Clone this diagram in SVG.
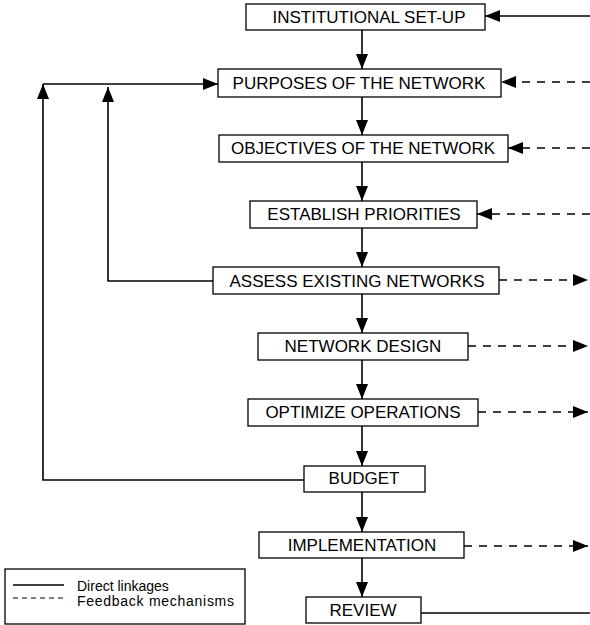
<svg xmlns="http://www.w3.org/2000/svg" width="590" height="625" viewBox="0 0 590 625">
  <style>
    .box { fill: #fff; stroke: #000; stroke-width: 1.3; }
    .lbl { font-family: "Liberation Sans", Arial, sans-serif; font-size: 17px; fill: #000; text-anchor: middle; }
    .leg { font-family: "Liberation Sans", Arial, sans-serif; font-size: 14px; fill: #000; }
    .solid { fill: none; stroke: #000; stroke-width: 1.6; }
    .dash { fill: none; stroke: #000; stroke-width: 1.4; stroke-dasharray: 8 7; }
  </style>
  <defs>
    <marker id="head" viewBox="0 0 15 12" refX="15" refY="6" markerWidth="15" markerHeight="12" markerUnits="userSpaceOnUse" orient="auto">
      <path d="M0,0 L15,6 L0,12 Z" fill="#000"/>
    </marker>
  </defs>

  <g id="connectors">
    <!-- main downward flow -->
    <line class="solid" x1="362" y1="30" x2="362" y2="69" marker-end="url(#head)"/>
    <line class="solid" x1="362" y1="97" x2="362" y2="135" marker-end="url(#head)"/>
    <line class="solid" x1="362" y1="162" x2="362" y2="201" marker-end="url(#head)"/>
    <line class="solid" x1="362" y1="228" x2="362" y2="267" marker-end="url(#head)"/>
    <line class="solid" x1="362" y1="294" x2="362" y2="333" marker-end="url(#head)"/>
    <line class="solid" x1="362" y1="360" x2="362" y2="399" marker-end="url(#head)"/>
    <line class="solid" x1="362" y1="426" x2="362" y2="466" marker-end="url(#head)"/>
    <line class="solid" x1="362" y1="492" x2="362" y2="532" marker-end="url(#head)"/>
    <line class="solid" x1="362" y1="558" x2="362" y2="597" marker-end="url(#head)"/>

    <!-- loops back to purposes -->
    <line class="solid" x1="43" y1="84" x2="218" y2="84" marker-end="url(#head)"/>
    <polyline class="solid" points="304,480 43,480 43,84" marker-end="url(#head)"/>
    <polyline class="solid" points="213,281 108,281 108,87" marker-end="url(#head)"/>

    <!-- review to institutional set-up -->
    <line class="solid" x1="421" y1="613" x2="590" y2="613"/>
    <line class="solid" x1="590" y1="16" x2="485" y2="16" marker-end="url(#head)"/>

    <!-- feedback inputs -->
    <line class="dash" x1="590" y1="82" x2="501" y2="82" marker-end="url(#head)"/>
    <line class="dash" x1="590" y1="148" x2="508" y2="148" marker-end="url(#head)"/>
    <line class="dash" x1="590" y1="214" x2="477" y2="214" marker-end="url(#head)"/>

    <!-- feedback outputs -->
    <line class="dash" x1="499" y1="280" x2="588" y2="280" marker-end="url(#head)"/>
    <line class="dash" x1="468" y1="346" x2="588" y2="346" marker-end="url(#head)"/>
    <line class="dash" x1="478" y1="412" x2="588" y2="412" marker-end="url(#head)"/>
    <line class="dash" x1="464" y1="546" x2="588" y2="546" marker-end="url(#head)"/>
  </g>

  <g id="institutional">
    <rect class="box" x="246" y="4" width="239" height="26"/>
    <text class="lbl" x="369" y="23">INSTITUTIONAL SET-UP</text>
  </g>
  <g id="purposes">
    <rect class="box" x="218" y="69" width="283" height="28"/>
    <text class="lbl" x="359" y="89">PURPOSES OF THE NETWORK</text>
  </g>
  <g id="objectives">
    <rect class="box" x="219" y="135" width="289" height="27"/>
    <text class="lbl" x="363" y="154">OBJECTIVES OF THE NETWORK</text>
  </g>
  <g id="priorities">
    <rect class="box" x="250" y="201" width="227" height="27"/>
    <text class="lbl" x="364" y="220">ESTABLISH PRIORITIES</text>
  </g>
  <g id="assess">
    <rect class="box" x="213" y="267" width="286" height="27"/>
    <text class="lbl" x="357" y="287">ASSESS EXISTING NETWORKS</text>
  </g>
  <g id="design">
    <rect class="box" x="258" y="333" width="210" height="27"/>
    <text class="lbl" x="363" y="352">NETWORK DESIGN</text>
  </g>
  <g id="optimize">
    <rect class="box" x="248" y="399" width="230" height="27"/>
    <text class="lbl" x="363" y="418">OPTIMIZE OPERATIONS</text>
  </g>
  <g id="budget">
    <rect class="box" x="304" y="466" width="121" height="26"/>
    <text class="lbl" x="364" y="484">BUDGET</text>
  </g>
  <g id="implementation">
    <rect class="box" x="259" y="532" width="205" height="26"/>
    <text class="lbl" x="362" y="551">IMPLEMENTATION</text>
  </g>
  <g id="review">
    <rect class="box" x="306" y="597" width="115" height="26"/>
    <text class="lbl" x="363" y="616">REVIEW</text>
  </g>

  <g id="legend">
    <rect class="box" x="5" y="569" width="240" height="55"/>
    <line x1="13" y1="585" x2="64" y2="585" stroke="#000" stroke-width="1.6"/>
    <line x1="13" y1="598" x2="64" y2="598" stroke="#000" stroke-width="1.1" stroke-dasharray="5 4"/>
    <text class="leg" x="77" y="591">Direct linkages</text>
    <text class="leg" x="77" y="606" textLength="157">Feedback mechanisms</text>
  </g>
</svg>
